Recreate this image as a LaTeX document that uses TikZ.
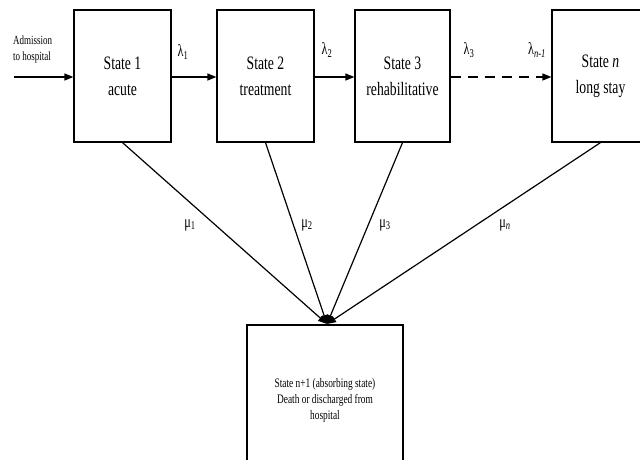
\documentclass[tikz,border=0pt]{standalone}
\usepackage{fontspec}
\setmainfont{Liberation Serif}
\newfontfamily\nfont[FakeStretch=0.72]{Liberation Serif}
\usetikzlibrary{arrows.meta}
\tikzset{
  statebox/.style={draw=black, line width=1.2pt, fill=white, minimum width=97pt, minimum height=132pt, inner sep=0pt, align=center, font=\nfont\fontsize{19}{26}\selectfont},
  flow/.style={line width=1.2pt, -{Triangle[length=9pt,width=7pt]}},
  lbl/.style={inner sep=0pt, font=\nfont\fontsize{17}{20}\selectfont}
}
\begin{document}
\begin{tikzpicture}[x=1pt,y=-1pt]
\useasboundingbox (0,0) rectangle (640,459);
\clip (0,0) rectangle (640,459);
\node[statebox] (s1) at (122.5,76) {State 1\\acute};
\node[statebox] (s2) at (265.5,76) {State 2\\treatment};
\node[statebox, minimum width=95pt] (s3) at (402.5,76) {State 3\\rehabilitative};
\node[statebox] (s4) at (600.5,76) {State \textit{n}\\long stay};
\node[statebox, minimum width=156pt, minimum height=150pt, font=\nfont\fontsize{13}{16}\selectfont] (abs) at (325,400) {State n+1 (absorbing state)\\Death or discharged from\\hospital};
\coordinate (adm) at (14,77);
\node[inner sep=0pt, align=left, anchor=west, font=\nfont\fontsize{12.5}{16}\selectfont] (admtxt) at (13,49) {Admission\\to hospital};
\draw[flow] (adm) -- (s1.west |- adm);
\draw[flow] (s1.east |- adm) -- (s2.west |- adm);
\draw[flow] (s2.east |- adm) -- (s3.west |- adm);
\draw[flow, dash pattern=on 10pt off 7pt] (s3.east |- adm) -- (s4.west |- adm);
\node[lbl] (l1) at (183,52) {λ\textsubscript{1}};
\node[lbl] (l2) at (327,50) {λ\textsubscript{2}};
\node[lbl] (l3) at (469,50) {λ\textsubscript{3}};
\node[lbl] (ln) at (537,50) {λ\textsubscript{\textit{n-1}}};
\coordinate (conv) at (327,324);
\draw[flow] (s1.south) -- (conv);
\draw[flow] (s2.south) -- (conv);
\draw[flow] (s3.south) -- (conv);
\draw[flow] (s4.south) -- (conv);
\node[lbl] (m1) at (190,225) {μ\textsubscript{1}};
\node[lbl] (m2) at (307,225) {μ\textsubscript{2}};
\node[lbl] (m3) at (385,225) {μ\textsubscript{3}};
\node[lbl] (mn) at (505,225) {μ\textsubscript{\textit{n}}};
\end{tikzpicture}
\end{document}
